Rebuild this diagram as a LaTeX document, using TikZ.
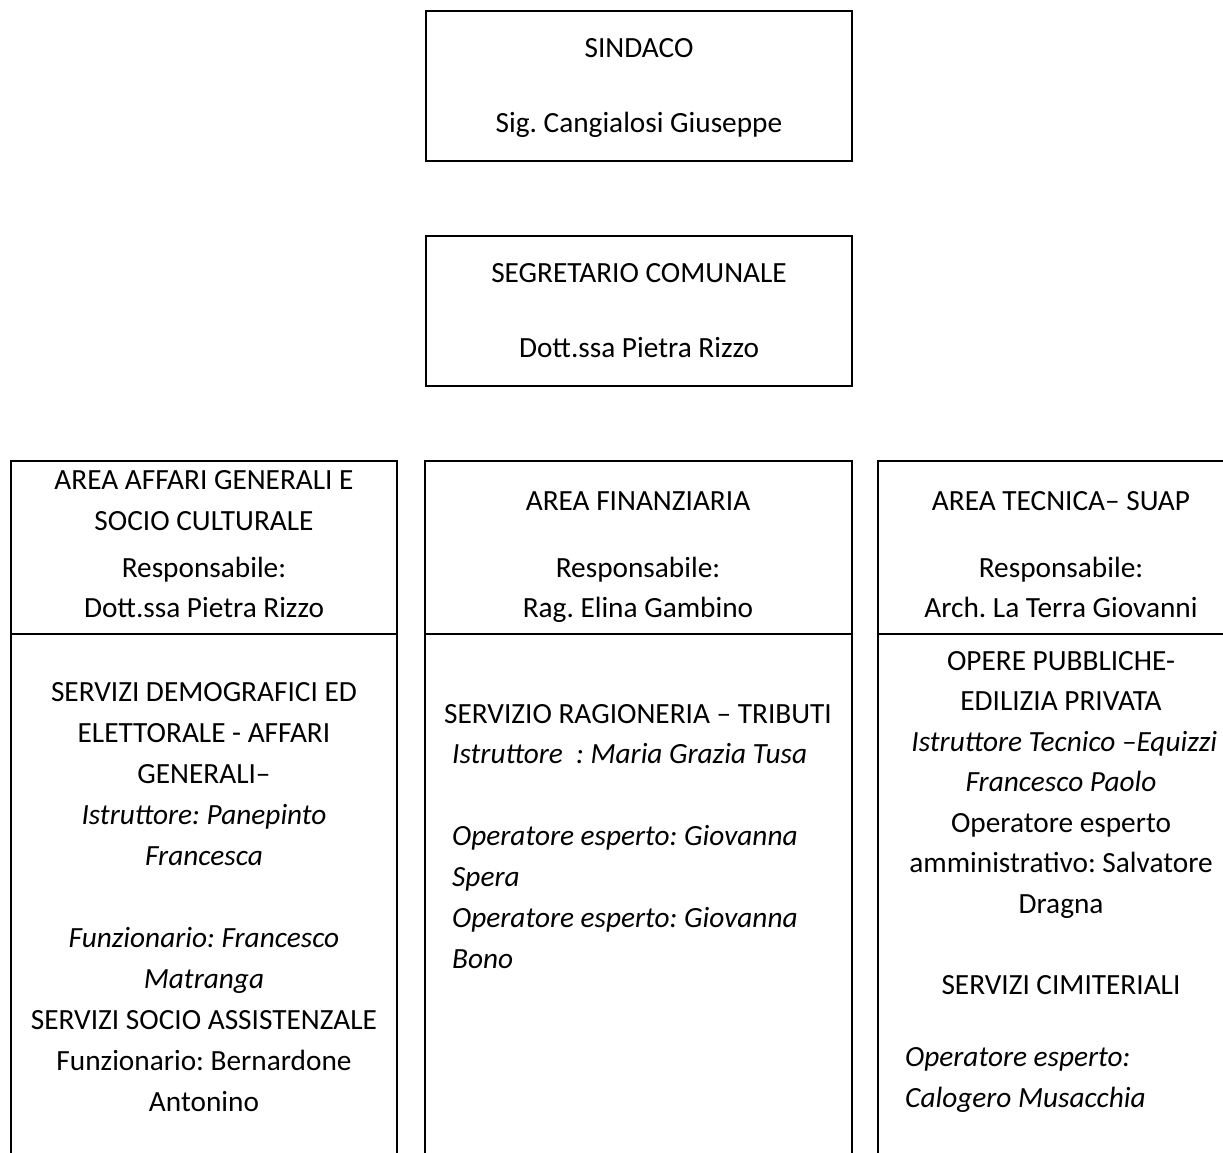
\documentclass[tikz,border=0pt]{standalone}
\usepackage{fontspec}
\setmainfont{Carlito}
\frenchspacing
\begin{document}
\begin{tikzpicture}[x=1pt,y=-1pt,
  frame/.style={line width=1.3pt, draw=black},
  boxnode/.style={frame, rectangle, minimum width=426pt, minimum height=150pt, inner sep=0pt, outer sep=0pt},
  txt/.style={font=\fontsize{29.3pt}{41pt}\selectfont, inner sep=0pt, anchor=base},
  ctxt/.style={txt, align=center},
  ltxt/.style={txt, align=left, anchor=base west},
  tight/.style={font=\fontsize{29.3pt}{40pt}\selectfont},
  rcol/.style={font=\fontsize{29.3pt}{40.5pt}\selectfont}]
\useasboundingbox (0,0) rectangle (1223,1153);
\clip (0,0) rectangle (1223,1153);

% top boxes
\node[boxnode] (sindacobox) at (639,86) {};
\node[txt] (sindaco) at (639,58) {SINDACO};
\node[txt] (sig) at (639,132) {Sig. Cangialosi Giuseppe};

\node[boxnode] (segbox) at (639,311) {};
\node[txt] (seg) at (639,282) {SEGRETARIO COMUNALE};
\node[txt] (segname) at (639,357) {Dott.ssa Pietra Rizzo};

% column frames
\draw[frame] (11,1165) -- (11,461) -- (397,461) -- (397,1165);
\draw[frame] (11,634) -- (397,634);
\draw[frame] (425,1165) -- (425,461) -- (852,461) -- (852,1165);
\draw[frame] (425,634) -- (852,634);
\draw[frame] (878,1165) -- (878,461) -- (1240,461);
\draw[frame] (878,634) -- (1240,634);

% left column (multi-line nodes are anchored at the baseline of their last line)
\node[ctxt] (affari) at (204,530) {AREA AFFARI GENERALI E\\SOCIO CULTURALE};
\node[ctxt, tight] (affarirespo) at (204,617) {Responsabile:\\Dott.ssa Pietra Rizzo};
\node[ctxt] (affaribody) at (204,1111) {SERVIZI DEMOGRAFICI ED\\ELETTORALE - AFFARI\\GENERALI–\\\textit{Istruttore: Panepinto}\\\textit{Francesca}\\[41pt]\textit{Funzionario: Francesco}\\\textit{Matranga}\\SERVIZI SOCIO ASSISTENZALE\\Funzionario: Bernardone\\Antonino};

% middle column
\node[txt] (fin) at (638,510) {AREA FINANZIARIA};
\node[ctxt, tight] (finrespo) at (638,617) {Responsabile:\\Rag. Elina Gambino};
\node[txt] (ragioneria) at (638,723) {SERVIZIO RAGIONERIA – TRIBUTI};
\node[ltxt] (finbody) at (452,968) {\textit{Istruttore\ \ : Maria Grazia Tusa}\\[41pt]\textit{Operatore esperto: Giovanna}\\\textit{Spera}\\\textit{Operatore esperto: Giovanna}\\\textit{Bono}};

% right column
\node[txt] (tec) at (1061,510) {AREA TECNICA– SUAP};
\node[ctxt, tight] (tecrespo) at (1061,617) {Responsabile:\\Arch. La Terra Giovanni};
\node[ctxt, rcol] (tecbody) at (1061,994) {OPERE PUBBLICHE-\\EDILIZIA PRIVATA\\\textit{\ Istruttore Tecnico –Equizzi}\\\textit{Francesco Paolo}\\Operatore esperto\\amministrativo: Salvatore\\Dragna\\[40.5pt]SERVIZI CIMITERIALI};
\node[ltxt, rcol] (cimit) at (905,1107) {\textit{Operatore esperto:}\\\textit{Calogero Musacchia}};
\end{tikzpicture}
\end{document}
